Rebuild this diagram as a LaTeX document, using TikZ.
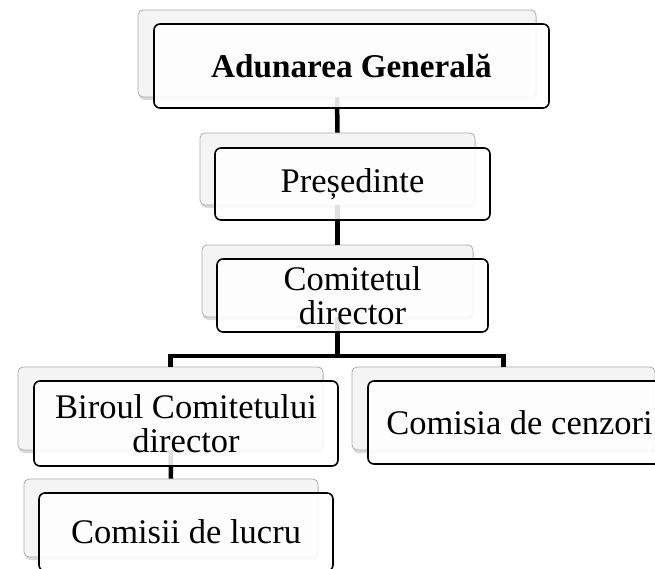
\documentclass[tikz,border=0pt]{standalone}
\usepackage{fontspec}
\setmainfont{Liberation Serif}
\usetikzlibrary{shadows}
\begin{document}
\begin{tikzpicture}[x=1pt,y=-1pt,
  back/.style={draw=gray!65, line width=0.8pt, fill=gray!9, rounded corners=5pt,
    drop shadow={shadow xshift=1pt, shadow yshift=-3pt, opacity=0.3, fill=gray}},
  front/.style={draw=black, line width=1.6pt, fill=white, fill opacity=0.88,
    text opacity=1, rounded corners=6pt, align=center, inner sep=0pt,
    font=\fontsize{34.5}{34.5}\selectfont},
  conn/.style={line width=4.5pt, draw=black}]
\useasboundingbox (0,0) rectangle (655,569);
\clip (0,0) rectangle (655,569);
% background boxes
\node[back, minimum width=398pt, minimum height=87pt] (s1) at (337,53.5) {};
\node[back, minimum width=275pt, minimum height=72pt] (s2) at (337.5,169) {};
\node[back, minimum width=271pt, minimum height=72pt] (s3) at (337.5,281) {};
\node[back, minimum width=305pt, minimum height=83pt] (s4) at (170.5,408.5) {};
\node[back, minimum width=303pt, minimum height=83pt] (s5) at (503.5,408.5) {};
\node[back, minimum width=294pt, minimum height=78pt] (s6) at (171,518) {};
% connectors
\coordinate (j) at (337.5,356);
\draw[conn] (s1.south) -- (s2.north);
\draw[conn] (s2.south) -- (s3.north);
\draw[conn] (s3.south) -- (j);
\draw[conn] (j) -| (s4.north);
\draw[conn] (j) -| (s5.north);
\draw[conn] (s4.south) -- (s6.north);
% front boxes
\node[front, minimum width=395pt, minimum height=84pt] (m1) at (351.5,66)
  {\raisebox{-8pt}{\fontsize{33.2}{34}\selectfont\textbf{Adunarea Generală}}};
\node[front, minimum width=275pt, minimum height=72pt] (m2) at (352.5,184) {Președinte};
\node[front, minimum width=271pt, minimum height=73pt] (m3) at (352.5,295.5) {Comitetul\\director};
\node[front, minimum width=304pt, minimum height=85pt] (m4) at (186,423.5) {Biroul Comitetului\\director};
\node[front, minimum width=303pt, minimum height=83pt] (m5) at (519.5,422.5) {Comisia de cenzori};
\node[front, minimum width=294pt, minimum height=78pt] (m6) at (186,532) {Comisii de lucru};
\end{tikzpicture}
\end{document}
